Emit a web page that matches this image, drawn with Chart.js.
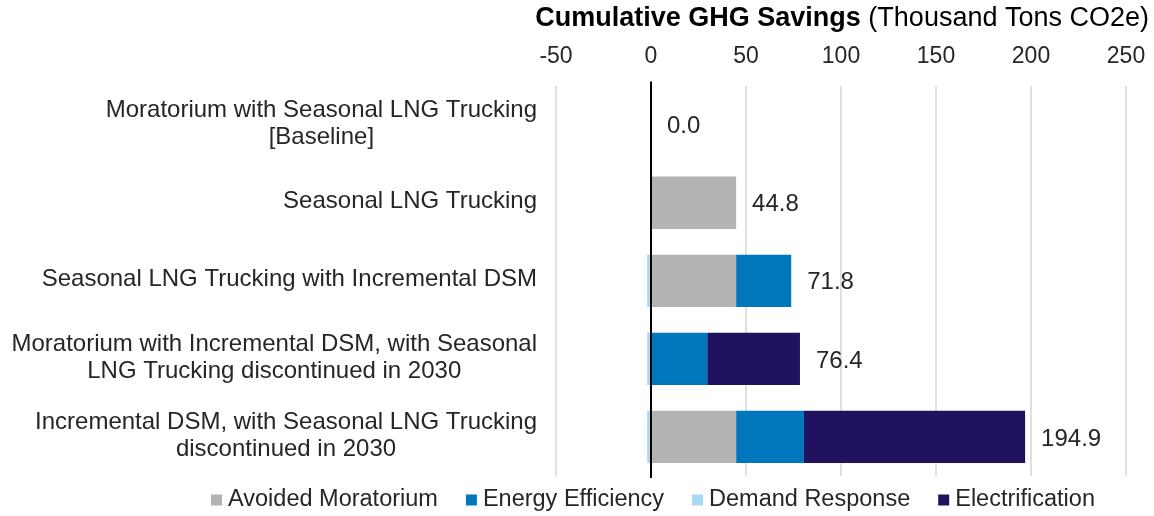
<!DOCTYPE html>
<html>
<head>
<meta charset="utf-8">
<script src="https://cdn.jsdelivr.net/npm/chart.js@4.4.1/dist/chart.umd.min.js"></script>
<style>
  html, body { margin: 0; padding: 0; background: #fff; }
  #wrap { width: 1154px; height: 516px; position: relative; }
</style>
</head>
<body>
<div id="wrap"><canvas id="chart"></canvas></div>
<script>
// ---- DATA ----
const scenarios = [
    ['Moratorium with Seasonal LNG Trucking', '[Baseline]'],
    ['Seasonal LNG Trucking'],
    ['Seasonal LNG Trucking with Incremental DSM'],
    ['Moratorium with Incremental DSM, with Seasonal', 'LNG Trucking discontinued in 2030'],
    ['Incremental DSM, with Seasonal LNG Trucking', 'discontinued in 2030'],
];
const avoided = [0, 44.8, 44.8, 0, 44.8];
const efficiency = [0, 0, 29.0, 29.6, 35.7];
const demandResp = [0, 0, -2.0, -2.0, -2.0];
const electrif = [0, 0, 0, 48.8, 116.4];
const totals = [0.0, 44.8, 71.8, 76.4, 194.9];
const xTicks = [-50, 0, 50, 100, 150, 200, 250];

// ---- STYLE ----
const FONT = '"Liberation Sans", Arial, sans-serif';
const TXT = '#262626';
const COL = { avoided: '#b3b3b3', ee: '#0077bd', dr: '#a9d7f6', elec: '#20125e' };

function ds(label, data, color) {
    return { label, data, backgroundColor: color, borderWidth: 0,
             barPercentage: 0.67, categoryPercentage: 1 };
}

// ---- PLUGIN: title, y labels, totals, zero line, legend ----
const decor = {
    id: 'decor',
    afterDatasetsDraw(chart) {
        const { ctx, scales: { x, y }, chartArea: a } = chart;
        ctx.save();

        // zero line on top of bars
        const x0 = x.getPixelForValue(0);
        ctx.strokeStyle = '#000'; ctx.lineWidth = 2;
        ctx.beginPath(); ctx.moveTo(x0, a.top - 4); ctx.lineTo(x0, a.bottom + 2); ctx.stroke();

        // axis title (mixed bold / normal)
        const t1 = 'Cumulative GHG Savings', t2 = ' (Thousand Tons CO2e)';
        ctx.textBaseline = 'middle'; ctx.fillStyle = '#000';
        ctx.font = `bold 27px ${FONT}`; const w1 = ctx.measureText(t1).width;
        ctx.font = `27px ${FONT}`; const w2 = ctx.measureText(t2).width;
        const tx = 1149 - w1 - w2;
        ctx.font = `bold 27px ${FONT}`; ctx.textAlign = 'left'; ctx.fillText(t1, tx, 19);
        ctx.font = `27px ${FONT}`; ctx.fillText(t2, tx + w1, 19);

        // category labels, each block centred, right edge at 537
        ctx.fillStyle = TXT; ctx.font = `24px ${FONT}`; ctx.textAlign = 'center';
        scenarios.forEach((lines, i) => {
            const cy = y.getPixelForValue(i) - 1;
            const wMax = Math.max(...lines.map(l => ctx.measureText(l).width));
            const cx = 537 - wMax / 2;
            lines.forEach((l, j) => ctx.fillText(l, cx, cy + (j - (lines.length - 1) / 2) * 27));
        });

        // totals at end of positive stack
        ctx.font = `24px ${FONT}`; ctx.textAlign = 'left';
        totals.forEach((v, i) => {
            const end = avoided[i] + efficiency[i] + Math.max(demandResp[i], 0) + electrif[i];
            ctx.fillText(v.toFixed(1), x.getPixelForValue(end) + 16, y.getPixelForValue(i) + 2);
        });

        // legend
        ctx.font = `23.5px ${FONT}`;
        const items = chart.data.datasets.map(d => ({ t: d.label, c: d.backgroundColor }));
        const box = 11, gap = 6, sep = 28;
        const total = items.reduce((s, it) => s + box + gap + ctx.measureText(it.t).width, 0) + sep * (items.length - 1);
        let lx = 653 - total / 2;
        const ly = 500;
        items.forEach(it => {
            ctx.fillStyle = it.c; ctx.fillRect(lx, ly - box / 2, box, box);
            ctx.fillStyle = TXT; ctx.fillText(it.t, lx + box + gap, ly);
            lx += box + gap + ctx.measureText(it.t).width + sep;
        });
        ctx.restore();
    },
};

// ---- CHART ----
new Chart(document.getElementById('chart'), {
    type: 'bar',
    data: {
        labels: scenarios,
        datasets: [
            ds('Avoided Moratorium', avoided, COL.avoided),
            ds('Energy Efficiency', efficiency, COL.ee),
            ds('Demand Response', demandResp, COL.dr),
            ds('Electrification', electrif, COL.elec),
        ],
    },
    options: {
        indexAxis: 'y', responsive: true, maintainAspectRatio: false, animation: false,
        layout: { padding: { top: 28, right: 28, bottom: 40, left: 556 } },
        plugins: { legend: { display: false }, tooltip: { enabled: false } },
        scales: {
            x: {
                position: 'top', stacked: true, min: -50, max: 250,
                afterBuildTicks: s => { s.ticks = xTicks.map(v => ({ value: v })); },
                afterFit: s => { s.paddingLeft = 0; s.paddingRight = 0; },
                ticks: { color: TXT, padding: 15, font: { family: FONT, size: 23 } },
                grid: { drawTicks: false, lineWidth: 2,
                        color: c => c.tick && c.tick.value === 0 ? '#000' : '#e0e0e0' },
                border: { display: false },
            },
            y: { stacked: true, display: false },
        },
    },
    plugins: [decor],
});
</script>
</body>
</html>
